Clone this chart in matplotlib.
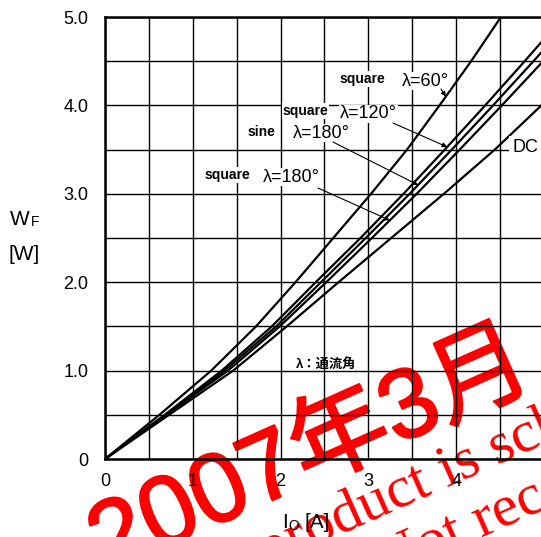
import numpy as np
import matplotlib.pyplot as plt
import matplotlib.patheffects as pe

# Forward power dissipation W_F [W] against average current I_O [A]
# (every 0.5 W)
sq60_wf = [0, 0.5, 1.0, 1.5, 2.0, 2.5, 3.0, 3.5, 4.0, 4.5, 5.0]
sq60_io = [0, 0.62, 1.21, 1.72, 2.17, 2.60, 3.03, 3.44, 3.81, 4.17, 4.51]

sq120_wf = [0, 0.5, 1.0, 1.5, 2.0, 2.5, 3.0, 3.5, 4.0, 4.5, 5.0]
sq120_io = [0, 0.68, 1.33, 1.90, 2.40, 2.91, 3.40, 3.87, 4.33, 4.78, 5.22]

sine180_wf = [0, 0.5, 1.0, 1.5, 2.0, 2.5, 3.0, 3.5, 4.0, 4.5, 5.0]
sine180_io = [0, 0.69, 1.36, 1.95, 2.46, 2.97, 3.47, 3.95, 4.42, 4.88, 5.33]

sq180_wf = [0, 0.5, 1.0, 1.5, 2.0, 2.5, 3.0, 3.5, 4.0, 4.5]
sq180_io = [0, 0.70, 1.40, 1.99, 2.52, 3.04, 3.55, 4.04, 4.52, 4.99]

dc_wf = [0, 0.5, 1.0, 1.5, 2.0, 2.5, 3.0, 3.5, 4.0, 4.5]
dc_io = [0, 0.73, 1.46, 2.07, 2.66, 3.26, 3.86, 4.44, 4.97, 5.48]

x_ticks = [0, 1, 2, 3, 4]
x_labels = ["0", "1", "2", "3", "4"]
y_ticks = [0, 1, 2, 3, 4, 5]
y_labels = ["0", "1.0", "2.0", "3.0", "4.0", "5.0"]

W, H = 541, 537
SANS = ["Liberation Sans", "Noto Sans CJK JP", "DejaVu Sans"]


def px(x, y):
    # pixel position -> figure fraction
    return x / W, 1 - y / H


fig = plt.figure(figsize=(W / 100, H / 100), dpi=100)
fig.patch.set_facecolor("white")
ax = fig.add_axes([105 / W, 1 - 459 / H, (544 - 105) / W, (459 - 17) / H])
ax.set_facecolor("none")

for xs, ys in [(sq60_io, sq60_wf), (sq120_io, sq120_wf), (sine180_io, sine180_wf),
               (sq180_io, sq180_wf), (dc_io, dc_wf)]:
    ax.plot(xs, ys, color="black", lw=1.6, solid_capstyle="round",
            solid_joinstyle="round")

ax.set_xlim(0, 5)
ax.set_ylim(0, 5)
ax.set_xticks(x_ticks)
ax.set_xticklabels(x_labels, family=SANS, fontsize=13)
ax.set_yticks(y_ticks)
ax.set_yticklabels(y_labels, family=SANS, fontsize=13)
ax.set_xticks(np.arange(0.5, 5, 1), minor=True)
ax.set_yticks(np.arange(0.5, 5, 1), minor=True)
ax.tick_params(which="both", length=0)
ax.tick_params(axis="x", pad=10)
ax.tick_params(axis="y", pad=12)
ax.grid(which="both", color="black", lw=1.0)
ax.set_axisbelow(True)
for s in ax.spines.values():
    s.set_linewidth(1.8)


def d(x, y):
    # pixel position -> data coordinates of the axes
    return (x - 105) / 87.8, (459 - y) / 88.4


box = dict(facecolor="white", edgecolor="none", pad=0.5)
small = dict(family=SANS, fontsize=10, fontweight="bold", va="center", ha="left", bbox=box)
big = dict(family=SANS, fontsize=13, va="center", ha="left", bbox=box)

# labels and leaders
ax.text(*d(340, 79), "square", **small)
ax.text(*d(402, 81), "λ=60°", **big)
ax.text(*d(283, 111), "square", **small)
ax.text(*d(340, 114), "λ=120°", **big)
ax.text(*d(248, 132), "sine", **small)
ax.text(*d(293, 133), "λ=180°", **big)
ax.text(*d(512, 148), "DC", family=SANS, fontsize=13, va="center", ha="left",
        bbox=dict(facecolor="white", edgecolor="none", pad=2.5))
ax.text(*d(205, 175), "square", **small)
ax.text(*d(263, 177), "λ=180°", **big)
ax.text(*d(296, 364), "λ：通流角", family=SANS, fontsize=9.5, fontweight="bold",
        va="center", ha="left")

arrow = dict(arrowstyle="-|>", color="black", lw=0.8, mutation_scale=7,
             shrinkA=0, shrinkB=0)
leaders = [
    (d(441, 89), 4.10, sq60_io, sq60_wf),
    (d(393, 123), 3.53, sq120_io, sq120_wf),
    (d(333, 142), 3.10, sine180_io, sine180_wf),
    (d(318, 188), 2.70, sq180_io, sq180_wf),
]
for start, wf, xs, ys in leaders:
    tip = (np.interp(wf, ys, xs), wf)
    ax.annotate("", xy=tip, xytext=start, arrowprops=arrow)

# axis titles
fig.text(*px(10, 219), "W", family=SANS, fontsize=15, va="center", ha="left")
fig.text(*px(31, 222), "F", family=SANS, fontsize=10, va="center", ha="left")
fig.text(*px(9, 255), "[W]", family=SANS, fontsize=15, va="center", ha="left")
fig.text(*px(282, 523), "I", family=SANS, fontsize=15, va="center", ha="left")
fig.text(*px(288, 526), "O", family=SANS, fontsize=10, va="center", ha="left")
fig.text(*px(304, 523), "[A]", family=SANS, fontsize=15, va="center", ha="left")

# red stamp behind the chart
thick = [pe.withStroke(linewidth=1.5, foreground="red")]
fig.text(*px(311, 455), "2007年3月", family=SANS, fontsize=71, color="red",
         rotation=24, rotation_mode="anchor", ha="center", va="center",
         zorder=-1, path_effects=thick)
fig.text(*px(156, 617), "This product is scheduled to be discontinued.",
         family="Liberation Serif", fontsize=43, color="red", rotation=24,
         rotation_mode="anchor", ha="left", va="baseline", zorder=-1)
fig.text(*px(386, 580), "Not recommended for new design.",
         family="Liberation Serif", fontsize=43, color="red", rotation=24,
         rotation_mode="anchor", ha="left", va="baseline", zorder=-1)

fig.savefig("out.png", dpi=100, facecolor="white")
